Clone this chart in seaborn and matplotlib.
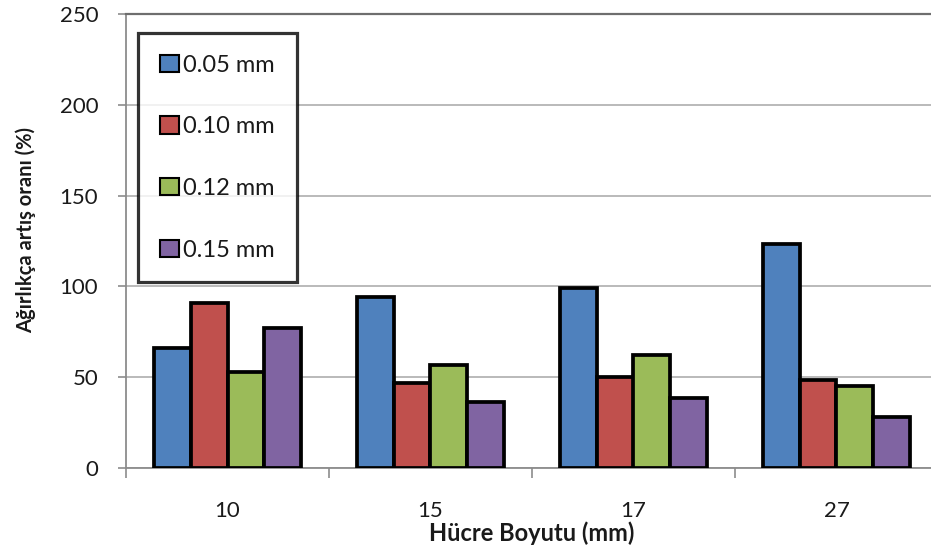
import matplotlib
matplotlib.use("Agg")
import matplotlib.pyplot as plt
import seaborn as sns
import pandas as pd
from matplotlib.ticker import FixedLocator

# ---- data ----
cell_sizes = ["10", "15", "17", "27"]
thickness_labels = ["0.05 mm", "0.10 mm", "0.12 mm", "0.15 mm"]
vals_005 = [66.0, 94.0, 99.0, 123.5]
vals_010 = [91.0, 46.7, 50.3, 48.5]
vals_012 = [53.0, 56.8, 62.4, 45.2]
vals_015 = [77.0, 36.1, 38.3, 28.1]
y_ticks = [0, 50, 100, 150, 200, 250]
colors = ["#4F81BD", "#C0504D", "#9BBB59", "#8064A2"]

series = [vals_005, vals_010, vals_012, vals_015]
rows = []
for lab, vals in zip(thickness_labels, series):
    for c, v in zip(cell_sizes, vals):
        rows.append({"size": c, "thickness": lab, "value": v})
df = pd.DataFrame(rows)

sns.set_theme(style="white")
plt.rcParams["font.family"] = ["Lato", "DejaVu Sans"]

fig = plt.figure(figsize=(9.31, 5.51), dpi=100)
W, H = 931, 551
ax = fig.add_axes([126 / W, 83 / H, 812 / W, 454 / H])

sns.barplot(data=df, x="size", y="value", hue="thickness", order=cell_sizes,
            hue_order=thickness_labels, palette=colors, saturation=1,
            width=0.72, edgecolor="black", linewidth=2.7, ax=ax, zorder=3)

ax.set_ylim(0, 250)
ax.set_xlim(-0.5, len(cell_sizes) - 0.5)
ax.set_yticks(y_ticks)
ax.yaxis.grid(True, color="#b4b4b4", linewidth=1.3, zorder=0)
ax.xaxis.grid(False)
ax.set_axisbelow(True)

ax.spines["right"].set_visible(False)
ax.spines["top"].set_color("#6e6e6e")
ax.spines["top"].set_linewidth(1.6)
for s in ["left", "bottom"]:
    ax.spines[s].set_color("#8c8c8c")
    ax.spines[s].set_linewidth(1.3)

ax.tick_params(axis="y", direction="out", length=6, width=1.2, color="#8c8c8c",
               pad=14, labelsize=16, labelcolor="#1a1a1a", left=True)
ax.tick_params(axis="x", which="major", length=0, pad=24, labelsize=16,
               labelcolor="#1a1a1a")
ax.xaxis.set_minor_locator(FixedLocator([-0.5, 0.5, 1.5, 2.5, 3.5]))
ax.tick_params(axis="x", which="minor", direction="out", length=7, width=1.2,
               color="#8c8c8c", bottom=True)

ax.set_xlabel("Hücre Boyutu (mm)", fontsize=17, fontweight="bold", color="#1a1a1a")
ax.set_ylabel("Ağırlıkça artış oranı (%)", fontsize=14.5, fontweight="bold",
              color="#1a1a1a")
ax.xaxis.set_label_coords((532 - 126) / 812, (468 - 521) / 454)
ax.yaxis.set_label_coords((36 - 126) / 812, (468 - 230) / 454)

leg = ax.legend(loc="upper left", bbox_to_anchor=((138 - 126) / 812, (468 - 33) / 454),
                borderaxespad=0, fontsize=17, frameon=True, fancybox=False,
                labelspacing=1.72, borderpad=0.92, handlelength=0.8,
                handleheight=0.75, handletextpad=0.2, title=None)
leg.get_frame().set_edgecolor("black")
leg.get_frame().set_linewidth(2.3)
leg.get_frame().set_facecolor("white")
for h in leg.legend_handles:
    h.set_linewidth(1.5)
for t in leg.get_texts():
    t.set_color("#1a1a1a")

fig.savefig("out.png", dpi=100)
